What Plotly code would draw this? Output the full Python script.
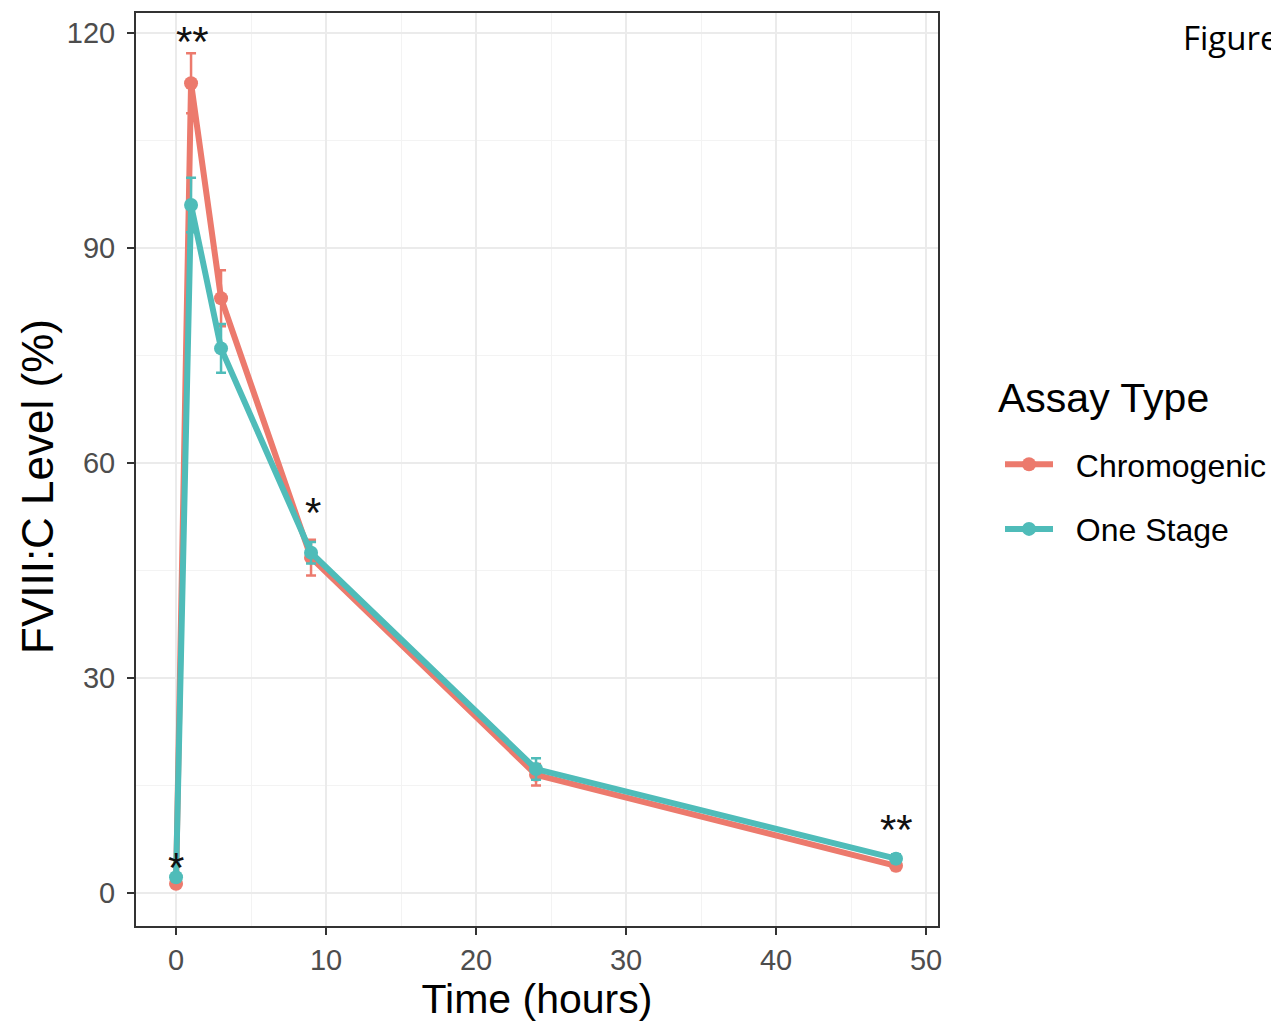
import plotly.graph_objects as go

time_h = [0, 1, 3, 9, 24, 48]
chromogenic = [1.3, 113.0, 83.0, 46.8, 16.5, 3.8]
chromogenic_err = [0.5, 4.2, 3.9, 2.5, 1.5, 0.6]
one_stage = [2.2, 96.0, 76.0, 47.5, 17.3, 4.8]
one_stage_err = [0.5, 3.8, 3.4, 1.5, 1.5, 0.6]

sig_x = [0, 1.1, 9.1, 48]
sig_y = [3.6, 118.8, 53.1, 8.8]
sig_text = ["*", "**", "*", "**"]

series_names = ["Chromogenic", "One Stage"]

RED = "#EC7A6D"
TEAL = "#4FBCB9"
FONT = "Liberation Sans, Arial, sans-serif"

# plot area in page pixels (reference): x 135..937, y 12..925
PX0, PX1, PY0, PY1 = 135, 937, 12, 925
PW, PH = PX1 - PX0, PY1 - PY0


def px(xp):
    return (xp - PX0) / PW


def py(yp):
    return 1 - (yp - PY0) / PH


PAD = "&nbsp;&nbsp;"

fig = go.Figure()
fig.add_trace(go.Scatter(
    x=time_h, y=chromogenic, name=PAD + series_names[0], mode="lines+markers",
    line=dict(color=RED, width=6), marker=dict(color=RED, size=14),
    error_y=dict(type="data", array=chromogenic_err, color=RED, thickness=2.5, width=5),
    legendgroup="a"))
fig.add_trace(go.Scatter(
    x=time_h, y=one_stage, name=PAD + series_names[1], mode="lines+markers",
    line=dict(color=TEAL, width=6), marker=dict(color=TEAL, size=14),
    error_y=dict(type="data", array=one_stage_err, color=TEAL, thickness=2.5, width=5),
    legendgroup="b"))

for xv, yv, t in zip(sig_x, sig_y, sig_text):
    fig.add_annotation(x=xv, y=yv, text=t, showarrow=False,
                       font=dict(family=FONT, size=42, color="#111111"),
                       xanchor="center", yanchor="middle")

fig.add_annotation(xref="paper", yref="paper", x=px(1180), y=py(37),
                   text="Figure", showarrow=False, xanchor="left", yanchor="middle",
                   font=dict(family="Open Sans, Noto Sans, sans-serif", size=33, color="black"))

fig.add_annotation(xref="paper", yref="paper", x=px(995), y=py(397),
                   text="Assay Type", showarrow=False, xanchor="left", yanchor="middle",
                   font=dict(family=FONT, size=41, color="black"))

# y-axis title (placed as annotation to match its offset along the axis)
fig.add_annotation(xref="paper", yref="paper", x=px(36), y=py(486),
                   text="FVIII:C Level (%)", showarrow=False, textangle=-90,
                   xanchor="center", yanchor="middle",
                   font=dict(family=FONT, size=44, color="black"))

axis_common = dict(
    showline=True, linecolor="#333333", linewidth=2, mirror=True,
    ticks="outside", ticklen=7, tickwidth=2, tickcolor="#333333",
    showgrid=True, gridcolor="#EBEBEB", gridwidth=1.5,
    zeroline=False,
    tickfont=dict(family=FONT, size=29, color="#4D4D4D"),
)

fig.update_xaxes(
    **axis_common, range=[-2.67, 50.8], tickvals=[0, 10, 20, 30, 40, 50],
    minor=dict(tickvals=[5, 15, 25, 35, 45], showgrid=True, gridcolor="#F3F3F3", gridwidth=1, ticks=""),
    title=dict(text="Time (hours)", font=dict(family=FONT, size=41, color="black"), standoff=10),
)
fig.update_yaxes(
    **axis_common, range=[-4.6, 122.8], tickvals=[0, 30, 60, 90, 120],
    ticklabelstandoff=6,
    minor=dict(tickvals=[15, 45, 75, 105], showgrid=True, gridcolor="#F3F3F3", gridwidth=1, ticks=""),
)

fig.update_layout(
    width=1279, height=1026,
    margin=dict(l=128, r=349, t=5, b=108, autoexpand=False),
    plot_bgcolor="white", paper_bgcolor="white",
    legend=dict(
        font=dict(family=FONT, size=32, color="black"),
        x=px(999), y=py(436), xanchor="left", yanchor="top",
        tracegroupgap=20, traceorder="grouped", itemwidth=48,
        bgcolor="rgba(0,0,0,0)",
    ),
    showlegend=True,
)

fig.write_html("out.html")
